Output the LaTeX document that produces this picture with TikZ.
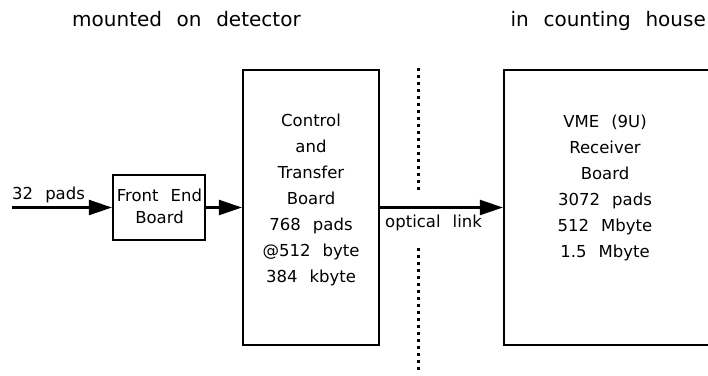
\documentclass[tikz,border=0pt]{standalone}
\usepackage{fontspec}
\setmainfont{DejaVu Sans}[WordSpace=2.3]
\usetikzlibrary{arrows.meta}
\begin{document}
\begin{tikzpicture}[x=1pt,y=-1pt,
  box/.style={draw, line width=2.2pt, minimum width=#1, inner sep=0pt},
  arr/.style={line width=2.2pt, -{Triangle[length=23pt,width=15pt]}},
  sep/.style={line width=3pt, dash pattern=on 2.5pt off 4.5pt},
  txt/.style={font=\fontsize{16.5}{26}\selectfont, align=center, inner sep=0pt},
  head/.style={font=\fontsize{20}{24}\selectfont, inner sep=0pt, anchor=base west}]
\useasboundingbox (0,0) rectangle (708,375);

% headings
\node[head] (hdet) at (72,26.5) {mounted on detector};
\node[head, anchor=base east] (hhouse) at (706,26.5) {in counting house};

% boards
\node[box=92pt, minimum height=65pt] (fe) at (159,207.5) {};
\node[txt, font=\fontsize{16.5}{22}\selectfont] (fetxt) at (159.5,206) {Front End\\Board};

\node[box=136pt, minimum height=275pt] (ctb) at (311,207.5) {};
\node[txt] (ctbtxt) at (311,200) {Control\\and\\Transfer\\Board\\768 pads\\@512 byte\\384 kbyte};

\node[box=216pt, minimum height=275pt] (rcv) at (612,207.5) {};
\node[txt] (rcvtxt) at (605,187.5) {VME (9U)\\Receiver\\Board\\3072 pads\\512 Mbyte\\1.5 Mbyte};

% input and links
\coordinate (in) at (12,207.5);
\draw[arr] (in) -- (fe.west);
\node[txt, anchor=base west] (padslbl) at (12,199) {32 pads};
\draw[arr] (fe.east) -- (ctb.west);
\draw[arr] (ctb.east) -- (rcv.west);
\node[txt, anchor=north west] (optlbl) at (385,215) {optical link};

% detector / counting house boundary
\coordinate (s1a) at (418,68);
\coordinate (s1b) at (418,194);
\coordinate (s2a) at (418,248);
\coordinate (s2b) at (418,374);
\draw[sep] (s1a) -- (s1b);
\draw[sep] (s2a) -- (s2b);
\end{tikzpicture}
\end{document}
